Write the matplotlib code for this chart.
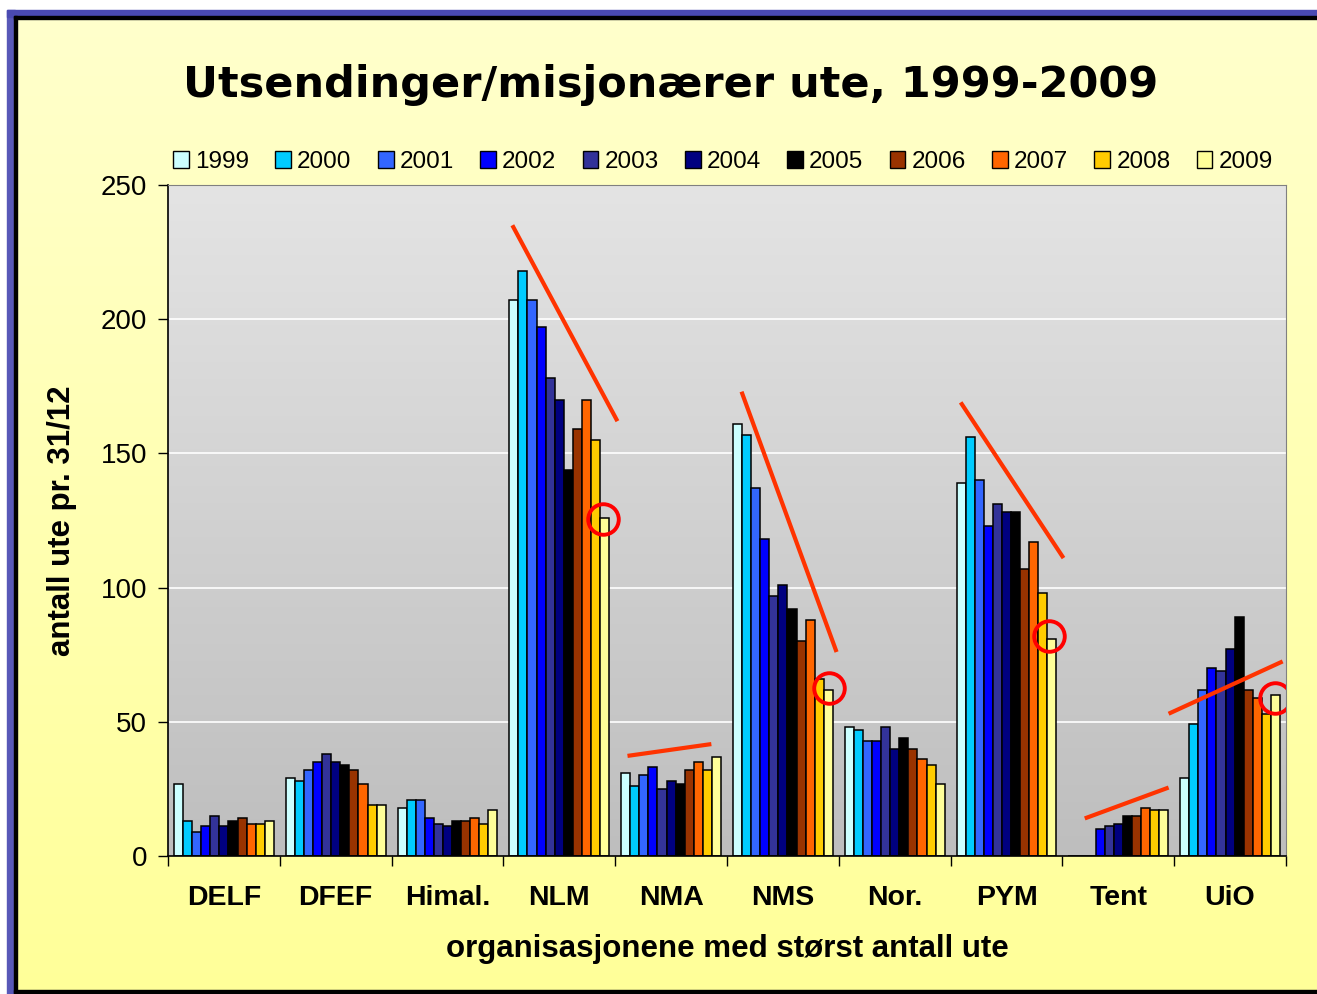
import numpy as np
import matplotlib
matplotlib.use('Agg')
import matplotlib.pyplot as plt
from matplotlib.patches import Rectangle, Patch
from matplotlib.colors import to_rgb

#%% data
years = ['1999', '2000', '2001', '2002', '2003', '2004', '2005', '2006', '2007', '2008', '2009']
orgs = ['DELF', 'DFEF', 'Himal.', 'NLM', 'NMA', 'NMS', 'Nor.', 'PYM', 'Tent', 'UiO']

delf  = [27, 13, 9, 11, 15, 11, 13, 14, 12, 12, 13]
dfef  = [29, 28, 32, 35, 38, 35, 34, 32, 27, 19, 19]
himal = [18, 21, 21, 14, 12, 11, 13, 13, 14, 12, 17]
nlm   = [207, 218, 207, 197, 178, 170, 144, 159, 170, 155, 126]
nma   = [31, 26, 30, 33, 25, 28, 27, 32, 35, 32, 37]
nms   = [161, 157, 137, 118, 97, 101, 92, 80, 88, 66, 62]
nor   = [48, 47, 43, 43, 48, 40, 44, 40, 36, 34, 27]
pym   = [139, 156, 140, 123, 131, 128, 128, 107, 117, 98, 81]
tent  = [0, 0, 0, 10, 11, 12, 15, 15, 18, 17, 17]
uio   = [29, 49, 62, 70, 69, 77, 89, 62, 59, 53, 60]

# hand-drawn trend lines (start/end) and circles on the 2009 bars
trend_x = [[2.58, 3.52], [3.61, 4.36], [4.63, 5.48], [6.59, 7.51], [7.70, 8.45], [8.45, 9.47]]
trend_y = [[235, 162], [37.3, 41.7], [173, 76], [169, 111], [14, 25.5], [53, 72.5]]
circle_x = [3.39, 5.41, 7.38, 9.40]
circle_y = [125.6, 62.6, 82.1, 58.8]

colors = ['#CCFFFF', '#00CCFF', '#3366FF', '#0000FF', '#333399', '#000080',
          '#000000', '#993300', '#FF6600', '#FFCC00', '#FFFF99']

values = np.array([delf, dfef, himal, nlm, nma, nms, nor, pym, tent, uio])

#%% plot
W, H = 1317, 994
fig = plt.figure(figsize=(W / 100, H / 100), dpi=100)
fig.patch.set_facecolor('white')

# slide background / frame
bg = fig.add_axes([0, 0, 1, 1], zorder=-10)
bg.axis('off')
c1, c2 = np.array(to_rgb('#FFFFCC')), np.array(to_rgb('#FFFF99'))
t = np.linspace(0, 1, 200)[:, None, None]
bg.imshow(c1 + (c2 - c1) * t, extent=(15, W, 992, 18), aspect='auto')
bg.add_patch(Rectangle((7, 10), 8, 984, color='#5858B8'))
bg.add_patch(Rectangle((7, 10), W, 7, color='#4A4AB2'))
bg.add_patch(Rectangle((14, 16), 3, 978, color='black'))
bg.add_patch(Rectangle((14, 16), W, 3, color='black'))
bg.add_patch(Rectangle((14, 990), W, 3, color='black'))
bg.set_xlim(0, W)
bg.set_ylim(H, 0)

ax = fig.add_axes([168 / W, 1 - 856 / H, (1286 - 168) / W, (856 - 185) / H])
ax.set_facecolor('none')

g1, g2 = np.array(to_rgb('#E4E4E4')), np.array(to_rgb('#BEBEBE'))
ax.imshow(g1 + (g2 - g1) * t, extent=(-0.5, 9.5, 0, 250), aspect='auto', zorder=0)

x = np.arange(len(orgs))
w = 0.894 / len(years)
for j, yr in enumerate(years):
    ax.bar(x + (j - 5) * w, values[:, j], width=w, color=colors[j],
           edgecolor='black', linewidth=1.1, zorder=3)

for yv in [50, 100, 150, 200]:
    ax.axhline(yv, color='white', linewidth=1.2, zorder=1)

for tx, ty in zip(trend_x, trend_y):
    ax.plot(tx, ty, color='#FF3300', linewidth=3, solid_capstyle='butt', zorder=5)
ax.plot(circle_x, circle_y, 'o', markersize=22, markerfacecolor='none',
        markeredgecolor='#FF0000', markeredgewidth=2.8, zorder=6)

ax.set_xlim(-0.5, 9.5)
ax.set_ylim(0, 250)
ax.set_yticks([0, 50, 100, 150, 200, 250])
ax.set_yticklabels(['0', '50', '100', '150', '200', '250'],
                   fontsize=20, family='Liberation Sans')
ax.tick_params(axis='y', direction='out', length=7, width=1, pad=8)
ax.set_xticks(x)
ax.set_xticklabels(orgs, fontsize=20.5, fontweight='bold', family='Liberation Sans')
ax.set_xticks(np.arange(-0.5, 10, 1), minor=True)
ax.tick_params(axis='x', which='major', length=0, pad=21)
ax.tick_params(axis='x', which='minor', direction='out', length=7, width=1)

for s in ['top', 'right']:
    ax.spines[s].set_color('#808080')
for s in ['left', 'bottom']:
    ax.spines[s].set_color('black')
    ax.spines[s].set_linewidth(1.2)
for s in ax.spines.values():
    s.set_zorder(7)

ax.set_ylabel('antall ute pr. 31/12', fontsize=22.5, fontweight='bold',
              family='Liberation Sans')
ax.yaxis.set_label_coords((62 - 168) / (1286 - 168), 0.5)
ax.set_xlabel('organisasjonene med størst antall ute', fontsize=22.5,
              fontweight='bold', family='Liberation Sans')
ax.xaxis.set_label_coords(0.5, -(949 - 856) / (856 - 185))
ax.xaxis.label.set_va('center')
ax.yaxis.label.set_va('center')

fig.text(671 / W, 1 - 85 / H, 'Utsendinger/misjonærer ute, 1999-2009',
         fontsize=31, fontweight='bold', family='DejaVu Sans',
         ha='center', va='center')

handles = [Patch(facecolor=c, edgecolor='black', linewidth=1) for c in colors]
fig.legend(handles, years, loc='center', bbox_to_anchor=(723 / W, 1 - 162 / H),
           ncol=11, frameon=False, prop={'family': 'Liberation Sans', 'size': 17.5},
           handlelength=0.65, handleheight=0.65, handletextpad=0.25,
           columnspacing=1.08)

plt.savefig('out.png', dpi=100)
